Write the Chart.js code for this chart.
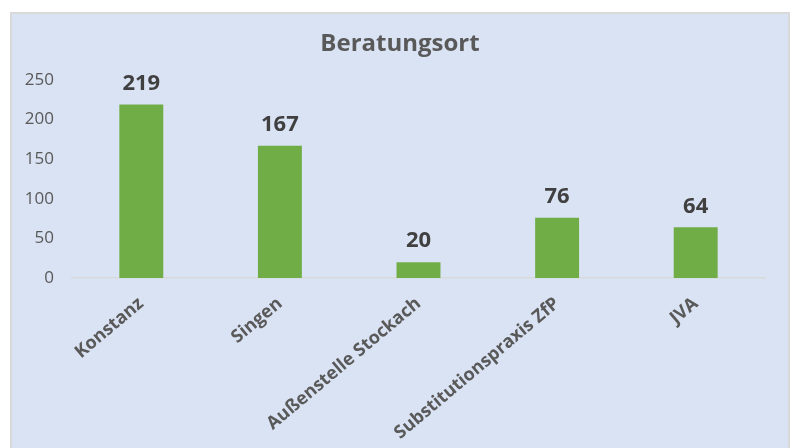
<!DOCTYPE html>
<html>
<head>
<meta charset="utf-8">
<script src="https://cdn.jsdelivr.net/npm/chart.js@4.4.0/dist/chart.umd.min.js"></script>
<style>
  html, body { margin:0; padding:0; background:#fff; width:796px; height:448px; overflow:hidden }
  #panel { position:absolute; left:10px; top:12px; width:776px; height:460px; border:2px solid #d9d9d9; background:#dae3f3 }
  #chart { display:block }
</style>
</head>
<body>
<div id="panel"><canvas id="chart" width="776" height="434"></canvas></div>
<script>
// data
const titleText = 'Beratungsort'
const categories = ['Konstanz', 'Singen', 'Außenstelle Stockach', 'Substitutionspraxis ZfP', 'JVA']
const counts = [219, 167, 20, 76, 64]
const yMax = 250
const yStep = 50

// title centred on the whole panel (built-in one centres on padded box)
const panelTitle = {
  id: 'panelTitle',
  afterDraw(chart) {
    const ctx = chart.ctx
    ctx.save()
    ctx.font = 'bold 24px "Open Sans"'
    ctx.fillStyle = '#595959'
    ctx.textAlign = 'center'
    ctx.textBaseline = 'middle'
    ctx.fillText(titleText, chart.width / 2, 30)
    ctx.restore()
  }
}

// draw value labels above bars
const valueLabels = {
  id: 'valueLabels',
  afterDatasetsDraw(chart) {
    const ctx = chart.ctx
    const meta = chart.getDatasetMeta(0)
    ctx.save()
    ctx.font = 'bold 22px "Open Sans"'
    ctx.fillStyle = '#404040'
    ctx.textAlign = 'center'
    ctx.textBaseline = 'middle'
    meta.data.forEach((bar, i) => {
      ctx.fillText(String(counts[i]), bar.x, bar.y - 21)
    })
    ctx.restore()
  }
}

const ctx = document.getElementById('chart').getContext('2d')
new Chart(ctx, {
  type: 'bar',
  data: {
    labels: categories,
    datasets: [{
      data: counts,
      backgroundColor: '#70ad47',
      borderWidth: 0,
      categoryPercentage: 1,
      barPercentage: 0.317
    }]
  },
  options: {
    responsive: false,
    animation: false,
    layout: { padding: { top: 66, right: 23, left: 0, bottom: 0 } },
    plugins: {
      legend: { display: false },
      tooltip: { enabled: false },
      title: { display: false }
    },
    scales: {
      x: {
        grid: { display: false, drawTicks: false },
        border: { display: true, color: '#d9d9d9', width: 1.5 },
        ticks: {
          autoSkip: false,
          minRotation: 40,
          maxRotation: 40,
          padding: 15,
          color: '#595959',
          font: { family: 'Open Sans', size: 18, weight: 'bold' }
        },
        afterFit(scale) { scale.height = 170 }
      },
      y: {
        min: 0,
        max: yMax,
        grid: { display: false, drawTicks: false },
        border: { display: false },
        ticks: {
          stepSize: yStep,
          padding: 18,
          color: '#595959',
          font: { family: 'Open Sans', size: 17 }
        },
        afterFit(scale) { scale.width = 60 }
      }
    }
  },
  plugins: [valueLabels, panelTitle]
})
</script>
</body>
</html>
